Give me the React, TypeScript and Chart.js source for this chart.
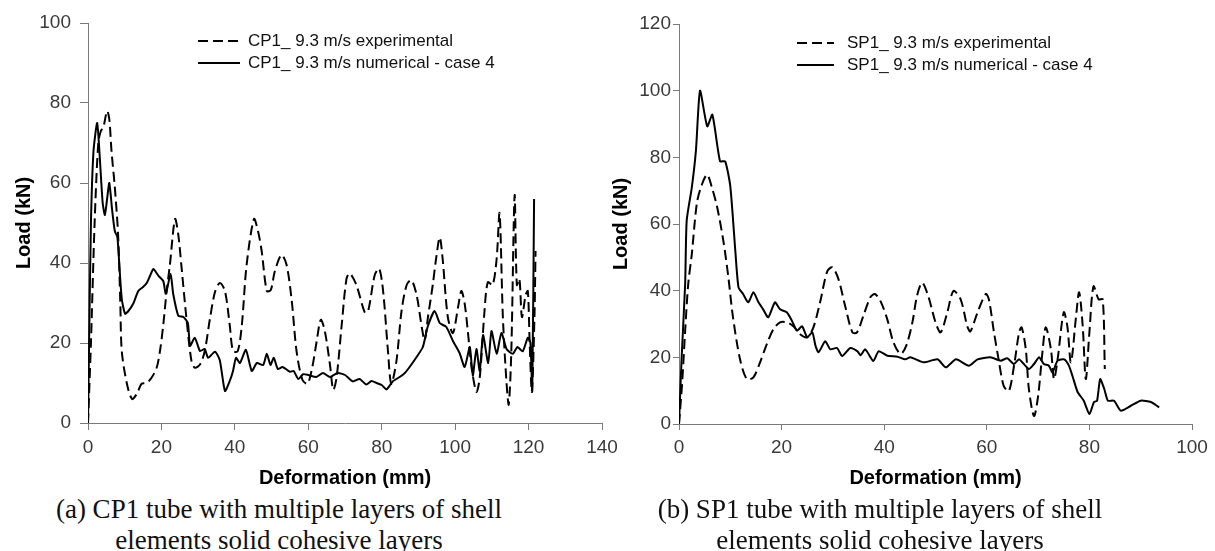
import React, { useEffect, useRef } from "react";
import { Chart, registerables } from "chart.js";

Chart.register(...registerables);

// ---------- DATA ----------
const cp1Labels = ["CP1_ 9.3 m/s experimental", "CP1_ 9.3 m/s numerical - case 4"];
const sp1Labels = ["SP1_ 9.3 m/s experimental", "SP1_ 9.3 m/s numerical - case 4"];
const xTitle = "Deformation (mm)";
const yTitle = "Load (kN)";
const captionA = ["(a) CP1 tube with multiple layers of shell", "elements solid cohesive layers"];
const captionB = ["(b) SP1 tube with multiple layers of shell", "elements solid cohesive layers"];

// [deformation (mm), load (kN)]
const cp1Experimental: [number, number][] = [
  [0, 0], [0.8, 20], [1.8, 50], [2.8, 70], [3.5, 73], [4.2, 74], [5.2, 78], [5.8, 76], [6.4, 68], [7.3, 59],
  [8.2, 47], [8.8, 30], [9.2, 18], [10.6, 9.8], [12, 6], [13.3, 7.3], [14.6, 9.8], [16, 10], [17.3, 11.3],
  [18.7, 13.8], [19.6, 18], [20.5, 24.5], [21.4, 32.8], [22.3, 39.5], [23.7, 51], [24.6, 47], [25.5, 38.7],
  [26.8, 26.3], [28.2, 15.4], [29.1, 13.8], [30.5, 14.6], [31.8, 18], [33.2, 26], [34.6, 32.8], [35.9, 35],
  [37.3, 33], [38.6, 24.5], [39.5, 18], [40.8, 18], [41.9, 24.5], [43.2, 39.5], [45.2, 51], [46.3, 48],
  [47.3, 43], [48.7, 33], [49.8, 33.3], [50.9, 38], [52.7, 42], [54.1, 39.5], [55.5, 30.5], [56.8, 18],
  [58.4, 10.8], [59.8, 9.8], [61.1, 14], [62.3, 20.5], [63.4, 25.8], [64.5, 23], [65.9, 14.6], [66.8, 8.3],
  [67.7, 11.3], [69.1, 24.5], [70.4, 36], [71.3, 37.4], [73.1, 34.5], [75.4, 27.6], [76.3, 28], [78.1, 37],
  [79.3, 38.6], [80.4, 32.8], [81.7, 18], [82.6, 9.8], [84, 15.4], [85.4, 28], [86.8, 34.5], [88.1, 35.7],
  [89.5, 32], [90.9, 24], [91.7, 20.7], [92.6, 26.5], [93.9, 34.5], [94.8, 41], [95.8, 46.4], [96.6, 41],
  [98, 26.5], [99.4, 22.5], [100.8, 29], [101.7, 33], [102.6, 29.8], [103.5, 22.5], [104.5, 13.8],
  [105.8, 7.8], [106.7, 11.3], [108, 28], [108.9, 35.2], [110.2, 34.5], [111.3, 41], [112.1, 52.4],
  [113, 26.5], [114, 10], [114.6, 4.6], [115.3, 18], [116.2, 56.9], [116.8, 34.5], [117.5, 36],
  [118.2, 26.5], [119.2, 32], [119.8, 33], [120.3, 20], [120.9, 7.8], [121.6, 26.5], [121.9, 43],
];

const cp1Numerical: [number, number][] = [
  [0, 0], [0.3, 20], [0.8, 50], [1.5, 68], [2.5, 75], [3.3, 65], [4, 55], [4.6, 52], [5.2, 56], [5.8, 60],
  [6.6, 53], [7.3, 48], [8, 46.5], [8.5, 40], [9.2, 31], [10.1, 27.3], [11, 28], [12.3, 29.8], [13.7, 33],
  [15, 34], [16, 35], [17, 37], [17.8, 38.5], [19.2, 36.8], [20.5, 35.5], [21.2, 32.3], [22.5, 37.3],
  [23.2, 32.3], [24.6, 26.8], [26, 26.5], [27.2, 25], [27.8, 19.3], [29.1, 21.3], [30.5, 18], [31.8, 18.5],
  [32.7, 16.3], [34.6, 17.8], [35.9, 15.7], [37.3, 8], [38.6, 10.5], [39.5, 13], [40.3, 16.3], [41.4, 15],
  [43, 18.3], [44.6, 13], [46, 15], [47.7, 14.5], [48.7, 17.3], [49.7, 14.5], [50.6, 16.3], [51.7, 13.5],
  [53, 14], [55, 12.8], [56, 13], [57.3, 11], [58.6, 12.2], [60, 12], [62.2, 11.5], [64, 12.5], [65.9, 11.5],
  [68, 12.5], [70, 12], [72.1, 10.4], [74, 11], [75.8, 9.6], [77.2, 10.5], [78.6, 10], [80, 9.5], [81.3, 8.4],
  [83, 10.4], [84.9, 11.5], [86.3, 12.5], [87.6, 14], [89.5, 16.5], [91.2, 19], [92.5, 24], [94.4, 28],
  [95.8, 25], [97.6, 24], [99.4, 20.5], [101.2, 17.5], [102.6, 14], [104, 19], [104.8, 11.8], [105.8, 18.5],
  [106.7, 13], [107.6, 22], [109, 15], [109.9, 23], [111.3, 17.3], [112.6, 22.5], [114, 18.5], [115.7, 17.3],
  [117, 19], [118.4, 17.9], [119.8, 21.3], [120.5, 20], [121, 8], [121.5, 56],
];

const sp1Experimental: [number, number][] = [
  [0, 0], [0.6, 12], [1.2, 28], [1.8, 42], [2.5, 51], [3.5, 66.4], [4.5, 72], [5.5, 74.8], [6.4, 71],
  [7.4, 65.3], [8.6, 55.4], [9.6, 44.3], [10.5, 32.3], [11.9, 19.4], [13.2, 13.5], [14.5, 14], [15.8, 18.5],
  [17.1, 23.9], [18.4, 28.4], [19.7, 30.5], [21, 30.5], [22.3, 29.3], [23.6, 26.9], [25, 26], [26.2, 29],
  [27.5, 36.5], [28.9, 45.8], [29.9, 47], [31.1, 43.4], [32.4, 35.3], [33.8, 27.5], [34.7, 27.5],
  [35.9, 32.3], [37.3, 38], [38.2, 39], [39.3, 36.8], [40.6, 31.4], [41.8, 24.5], [43.2, 21], [44.3, 23.5],
  [45.5, 30.5], [46.4, 38.5], [47.4, 42.4], [48.6, 38.3], [50, 30.5], [51, 27.5], [52.3, 33.5], [53.5, 39.9],
  [54.9, 37.4], [56.2, 29.3], [56.8, 27.8], [58.2, 33.5], [59.8, 39], [60.4, 37.4], [61.4, 27.5],
  [62.3, 19.4], [63.3, 11.4], [64.3, 9.9], [65.3, 17.4], [66.3, 27.5], [66.8, 29], [67.6, 22.4],
  [68.2, 10.5], [69.2, 2.4], [70, 8.4], [70.9, 22.4], [71.5, 29], [72.5, 22.4], [73.1, 13.5], [73.8, 19.4],
  [75, 33.5], [75.7, 29.3], [76.4, 18.5], [77.4, 32.3], [78, 39.5], [78.7, 29.3], [79.3, 13.5], [80, 27.5],
  [80.8, 41.3], [81.8, 37.4], [82.6, 37.4], [83, 16.5],
];

const sp1Numerical: [number, number][] = [
  [0, 0], [0.5, 19.4], [1.2, 42], [1.5, 61], [2.5, 71], [3.3, 82], [4.1, 100], [5.5, 89.3], [6.5, 92.8],
  [8, 78.8], [9, 78.8], [10, 71.3], [11, 51.5], [11.6, 41], [12.5, 39], [13.5, 36.5], [14.5, 39.5],
  [15.5, 36.5], [16.4, 34.4], [17.4, 32], [18.7, 36.5], [19.7, 34.4], [21, 33.5], [22, 31], [23, 28],
  [24, 29.3], [25, 26], [26, 27.5], [26.6, 23.5], [27.2, 21.5], [28.5, 24.8], [29.5, 22.4], [30.8, 22.8],
  [31.8, 20.4], [33.4, 22.8], [34.8, 21.8], [35.4, 20.6], [36.3, 22.4], [37.9, 18.9], [38.9, 21.8],
  [40.6, 20.5], [42.6, 20.2], [44.1, 19.4], [45.1, 20], [47.7, 18.5], [50.4, 19.4], [52, 17], [54, 19.4],
  [56.5, 17.5], [58.2, 19.4], [60.7, 20], [62.7, 19], [64, 19.7], [65.3, 18], [66.3, 19.4], [68.2, 16.5],
  [69.2, 18], [70.2, 20], [71.1, 18], [72.1, 17.5], [72.8, 15.5], [73.8, 19], [75.1, 19.4], [76, 17.5],
  [76.7, 14.4], [77.7, 9.6], [78.9, 7], [80, 3], [80.9, 6.6], [81.5, 7], [82.1, 13.5], [82.9, 10.5],
  [83.6, 7], [84.8, 7], [86.1, 4], [88, 5.4], [90, 7], [92, 6.6], [93.6, 5],
];

const cp1XTicks = { max: 140, step: 20 };
const cp1YTicks = { max: 100, step: 20 };
const sp1XTicks = { max: 100, step: 20 };
const sp1YTicks = { max: 120, step: 20 };

// ---------- PLUGIN: legend drawn inside plot ----------
const inlineLegend = {
  id: "inlineLegend",
  afterDraw(chart: any, _args: any, opts: any) {
    const ctx = chart.ctx;
    chart.data.datasets.forEach((ds: any, i: number) => {
      const yy = opts.y + i * opts.rowH;
      ctx.save();
      ctx.strokeStyle = ds.borderColor;
      ctx.lineWidth = ds.borderWidth;
      ctx.setLineDash(ds.borderDash || []);
      ctx.beginPath();
      ctx.moveTo(opts.x, yy);
      ctx.lineTo(opts.x + opts.lineLen, yy);
      ctx.stroke();
      ctx.setLineDash([]);
      ctx.fillStyle = opts.color;
      ctx.font = opts.font;
      ctx.textBaseline = "middle";
      ctx.textAlign = "left";
      ctx.fillText(ds.label, opts.x + opts.lineLen + opts.gap, yy);
      ctx.restore();
    });
  },
};

type Props = {
  exp: [number, number][];
  num: [number, number][];
  labels: string[];
  xt: { max: number; step: number };
  yt: { max: number; step: number };
  width: number;
  height: number;
  area: { left: number; right: number; top: number; bottom: number };
  yTickLen: number;
  yTickPad: number;
  xTickLen: number;
  yTitlePad: number;
  legend: { x: number; y: number; lineLen: number; gap: number; rowH: number };
};

function LoadChart(p: Props) {
  const ref = useRef<HTMLCanvasElement | null>(null);
  useEffect(() => {
    if (!ref.current) return;
    const tickFont = { family: "Liberation Sans, Arial, sans-serif", size: 19 };
    const titleFont = { family: "Liberation Sans, Arial, sans-serif", size: 20, weight: "bold" as const };
    const chart = new Chart(ref.current, {
      type: "line",
      data: {
        datasets: [
          {
            label: p.labels[0],
            data: p.exp.map(([x, y]) => ({ x, y })),
            borderColor: "#000",
            borderWidth: 2,
            borderDash: [10, 5],
            pointRadius: 0,
            tension: 0.3,
            fill: false,
          },
          {
            label: p.labels[1],
            data: p.num.map(([x, y]) => ({ x, y })),
            borderColor: "#000",
            borderWidth: 2,
            pointRadius: 0,
            tension: 0.2,
            fill: false,
          },
        ],
      },
      options: {
        responsive: false,
        animation: false,
        events: [],
        layout: {
          padding: { left: 0, top: p.area.top, right: p.width - p.area.right, bottom: 0 },
        },
        plugins: {
          legend: { display: false },
          tooltip: { enabled: false },
          inlineLegend: {
            ...p.legend,
            font: "17px 'Liberation Sans', Arial, sans-serif",
            color: "#111",
          },
        } as any,
        scales: {
          x: {
            type: "linear",
            min: 0,
            max: p.xt.max,
            ticks: { stepSize: p.xt.step, font: tickFont, color: "#3a3a3a", padding: 6, maxRotation: 0 },
            grid: { drawOnChartArea: false, drawTicks: true, tickLength: p.xTickLen, color: "#7a7a7a", lineWidth: 1 },
            border: { display: true, color: "#7a7a7a", width: 1 },
            title: { display: true, text: xTitle, font: titleFont, color: "#000", padding: { top: 0, bottom: 2 } },
            afterFit: (s: any) => {
              s.height = p.height - p.area.bottom;
              s.paddingLeft = 0;
              s.paddingRight = 0;
            },
          },
          y: {
            type: "linear",
            min: 0,
            max: p.yt.max,
            ticks: { stepSize: p.yt.step, font: tickFont, color: "#3a3a3a", padding: p.yTickPad },
            grid: { drawOnChartArea: false, drawTicks: true, tickLength: p.yTickLen, color: "#7a7a7a", lineWidth: 1 },
            border: { display: true, color: "#7a7a7a", width: 1 },
            title: { display: true, text: yTitle, font: titleFont, color: "#000", padding: { top: p.yTitlePad, bottom: 0 } },
            afterFit: (s: any) => {
              s.width = p.area.left;
              s.paddingTop = 0;
              s.paddingBottom = 0;
            },
          },
        },
      } as any,
      plugins: [inlineLegend as any],
    });
    return () => chart.destroy();
  }, []);
  return (
    <canvas
      ref={ref}
      width={p.width}
      height={p.height}
      style={{ width: p.width, height: p.height, display: "block" }}
    />
  );
}

const captionStyle: React.CSSProperties = {
  position: "absolute",
  fontFamily: "'Liberation Serif', 'Times New Roman', serif",
  fontSize: 27,
  lineHeight: "31px",
  color: "#111",
  textAlign: "center",
  whiteSpace: "nowrap",
};

export default function App() {
  return (
    <div style={{ position: "fixed", left: 0, top: 0, width: 1215, height: 551, background: "#fff", overflow: "hidden" }}>
      <div style={{ position: "absolute", left: 0, top: 0 }}>
        <LoadChart
          exp={cp1Experimental}
          num={cp1Numerical}
          labels={cp1Labels}
          xt={cp1XTicks}
          yt={cp1YTicks}
          width={625}
          height={492}
          area={{ left: 88, right: 602, top: 23, bottom: 423 }}
          yTickLen={8}
          yTickPad={9}
          xTickLen={7}
          yTitlePad={12}
          legend={{ x: 198, y: 41, lineLen: 42, gap: 8, rowH: 22 }}
        />
      </div>
      <div style={{ position: "absolute", left: 600, top: 0 }}>
        <LoadChart
          exp={sp1Experimental}
          num={sp1Numerical}
          labels={sp1Labels}
          xt={sp1XTicks}
          yt={sp1YTicks}
          width={615}
          height={492}
          area={{ left: 79, right: 592, top: 24, bottom: 424 }}
          yTickLen={6}
          yTickPad={2}
          xTickLen={6}
          yTitlePad={9}
          legend={{ x: 197, y: 43, lineLen: 37, gap: 13, rowH: 22 }}
        />
      </div>
      <div style={{ ...captionStyle, left: 0, top: 494, width: 558 }}>
        {captionA[0]}
        <br />
        {captionA[1]}
      </div>
      <div style={{ ...captionStyle, left: 600, top: 494, width: 560 }}>
        {captionB[0]}
        <br />
        {captionB[1]}
      </div>
    </div>
  );
}
